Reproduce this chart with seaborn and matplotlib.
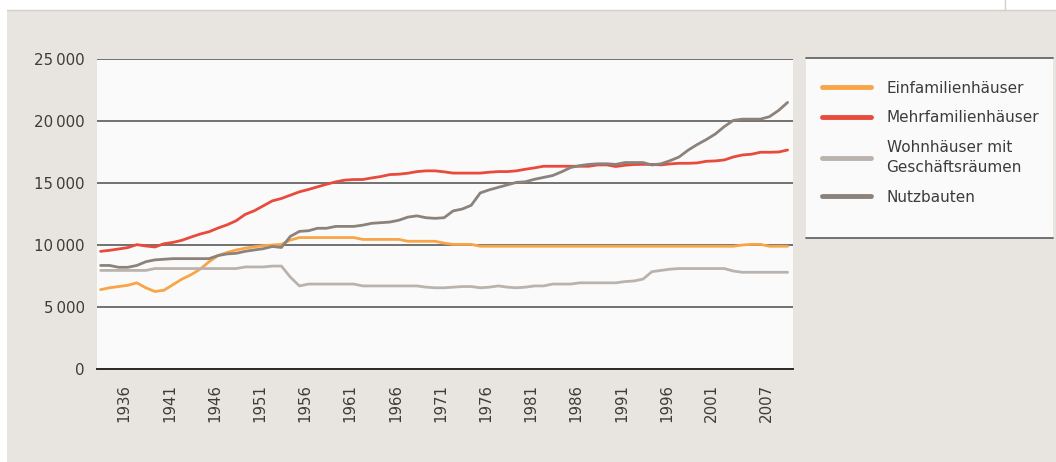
import matplotlib
matplotlib.use("Agg")
import matplotlib.pyplot as plt
import matplotlib.transforms as mtransforms
from matplotlib.lines import Line2D
from matplotlib.patches import Rectangle
import pandas as pd
import seaborn as sns

years = list(range(1934, 2011))

einfamilien = [
    6400, 6550, 6650, 6750, 6950, 6550, 6250, 6350, 6800, 7250,
    7600, 8050, 8650, 9150, 9400, 9600, 9750, 9850, 9950, 10000,
    10050, 10400, 10600, 10600, 10600, 10600, 10600, 10600, 10600, 10450,
    10450, 10450, 10450, 10450, 10300, 10300, 10300, 10300, 10150, 10050,
    10050, 10050, 9900, 9900, 9900, 9900, 9900, 9900, 9900, 9900,
    9900, 9900, 9900, 9900, 9900, 9900, 9900, 9900, 9900, 9900,
    9900, 9900, 9900, 9900, 9900, 9900, 9900, 9900, 9900, 9900,
    9900, 10000, 10050, 10050, 9900, 9900, 9900,
]
mehrfamilien = [
    9490, 9570, 9680, 9790, 10030, 9920, 9840, 10100, 10210, 10380,
    10640, 10880, 11070, 11370, 11630, 11960, 12470, 12760, 13160, 13560,
    13750, 14020, 14290, 14480, 14690, 14900, 15090, 15230, 15280, 15280,
    15410, 15520, 15680, 15710, 15790, 15920, 15980, 15980, 15900, 15800,
    15800, 15800, 15800, 15870, 15920, 15920, 15980, 16110, 16220, 16350,
    16350, 16350, 16350, 16350, 16350, 16460, 16460, 16330, 16430, 16490,
    16500, 16500, 16460, 16540, 16590, 16590, 16620, 16750, 16780, 16860,
    17100, 17260, 17320, 17480, 17480, 17500, 17660,
]
wohn_geschaeft = [
    7950, 7950, 7950, 7950, 7950, 7950, 8100, 8100, 8100, 8100,
    8100, 8100, 8100, 8100, 8100, 8100, 8230, 8230, 8230, 8300,
    8300, 7400, 6700, 6850, 6850, 6850, 6850, 6850, 6850, 6700,
    6700, 6700, 6700, 6700, 6700, 6700, 6600, 6550, 6550, 6600,
    6650, 6650, 6550, 6600, 6700, 6600, 6550, 6600, 6700, 6700,
    6850, 6850, 6850, 6950, 6950, 6950, 6950, 6950, 7050, 7100,
    7250, 7850, 7950, 8050, 8100, 8100, 8100, 8100, 8100, 8100,
    7900, 7800, 7800, 7800, 7800, 7800, 7800,
]
nutzbauten = [
    8350, 8350, 8200, 8200, 8350, 8650, 8800, 8850, 8900, 8900,
    8900, 8900, 8900, 9150, 9280, 9330, 9490, 9600, 9700, 9880,
    9800, 10700, 11100, 11150, 11350, 11350, 11500, 11500, 11500, 11600,
    11750, 11800, 11850, 12000, 12250, 12350, 12200, 12150, 12200, 12750,
    12900, 13200, 14200, 14450, 14650, 14850, 15050, 15100, 15300, 15450,
    15600, 15900, 16250, 16400, 16500, 16550, 16550, 16500, 16650, 16650,
    16650, 16450, 16550, 16800, 17100, 17650, 18100, 18500, 18950, 19550,
    20050, 20150, 20150, 20150, 20350, 20850, 21500,
]

series_names = [
    "Einfamilienhäuser",
    "Mehrfamilienhäuser",
    "Wohnhäuser mit\nGeschäftsräumen",
    "Nutzbauten",
]
series_colors = ["#F8A547", "#E84A3C", "#BAB3AD", "#8C827C"]
tick_years = [1936, 1941, 1946, 1951, 1956, 1961, 1966, 1971, 1976, 1981,
              1986, 1991, 1996, 2001, 2007]
y_ticks = [0, 5000, 10000, 15000, 20000, 25000]

BG = "#E8E5E0"
TEXT = "#3C3C3C"
GRID = "#5A5A5A"

frames = []
for name, vals in zip(series_names, [einfamilien, mehrfamilien, wohn_geschaeft, nutzbauten]):
    frames.append(pd.DataFrame({"Jahr": years, "Wert": vals, "Kategorie": name}))
df = pd.concat(frames, ignore_index=True)

sns.set_theme(style="white")
plt.rcParams["font.family"] = ["DejaVu Sans"]

W, H = 1056, 462
fig = plt.figure(figsize=(W / 100, H / 100), dpi=100, facecolor="white")

# beige panel behind everything
fig.patches.append(Rectangle((7 / W, 0), 1 - 7 / W, 1 - 10 / H, transform=fig.transFigure,
                             facecolor=BG, edgecolor="none", zorder=-10))
fig.add_artist(Line2D([7 / W, 1], [1 - 10 / H, 1 - 10 / H], color="#D2CEC9", lw=1))
fig.add_artist(Line2D([1005 / W, 1005 / W], [1 - 10 / H, 1], color="#D2CEC9", lw=1))

ax = fig.add_axes([97 / W, 1 - 369 / H, (793 - 97) / W, (369 - 59) / H])
ax.set_facecolor("#FAFAFA")

sns.lineplot(data=df, x="Jahr", y="Wert", hue="Kategorie", hue_order=series_names,
             palette=dict(zip(series_names, series_colors)), linewidth=2.0, ax=ax)
handles, labels = ax.get_legend_handles_labels()
ax.get_legend().remove()

ax.set_xlim(1933.6, 2010.6)
ax.set_ylim(0, 25000)
ax.set_xlabel("")
ax.set_ylabel("")
ax.set_yticks(y_ticks)
ax.set_yticklabels([f"{v:,}".replace(",", "\u2009") for v in y_ticks])
ax.set_xticks(tick_years)
ax.set_xticklabels([str(y) for y in tick_years], rotation=90)
ax.tick_params(axis="y", length=0, pad=9, labelsize=10.8, labelcolor=TEXT)
ax.tick_params(axis="x", length=0, pad=11, labelsize=10.8, labelcolor=TEXT)
shift = mtransforms.ScaledTranslation(4 / 72, 0, fig.dpi_scale_trans)
for lab in ax.get_xticklabels():
    lab.set_transform(lab.get_transform() + shift)

ax.grid(axis="y", color=GRID, linewidth=1.2)
ax.grid(axis="x", visible=False)
ax.set_axisbelow(True)
for side in ["left", "right", "top"]:
    ax.spines[side].set_visible(False)
ax.spines["bottom"].set_color("#2A2A2A")
ax.spines["bottom"].set_linewidth(1.4)

# legend box with top and bottom rules
x0, x1, y0, y1 = 806 / W, 1053 / W, 1 - 238 / H, 1 - 58 / H
fig.patches.append(Rectangle((x0, y0), x1 - x0, y1 - y0, transform=fig.transFigure,
                             facecolor="#FAFAFA", edgecolor="none", zorder=1))
fig.add_artist(Line2D([x0, x1], [y1, y1], color=GRID, lw=1.2))
fig.add_artist(Line2D([x0, x1], [y0, y0], color=GRID, lw=1.2))
for h in handles:
    h.set_linewidth(3.5)
leg = fig.legend(handles, labels, loc="upper left", bbox_to_anchor=(814 / W, 1 - 73 / H),
                 frameon=False, fontsize=11, handlelength=3.2, handletextpad=1.05,
                 labelspacing=0.95, borderpad=0, labelcolor=TEXT)
for t in leg.get_texts():
    t.set_linespacing(1.45)
leg.set_zorder(5)

fig.savefig("out.png", dpi=100, facecolor=fig.get_facecolor())
